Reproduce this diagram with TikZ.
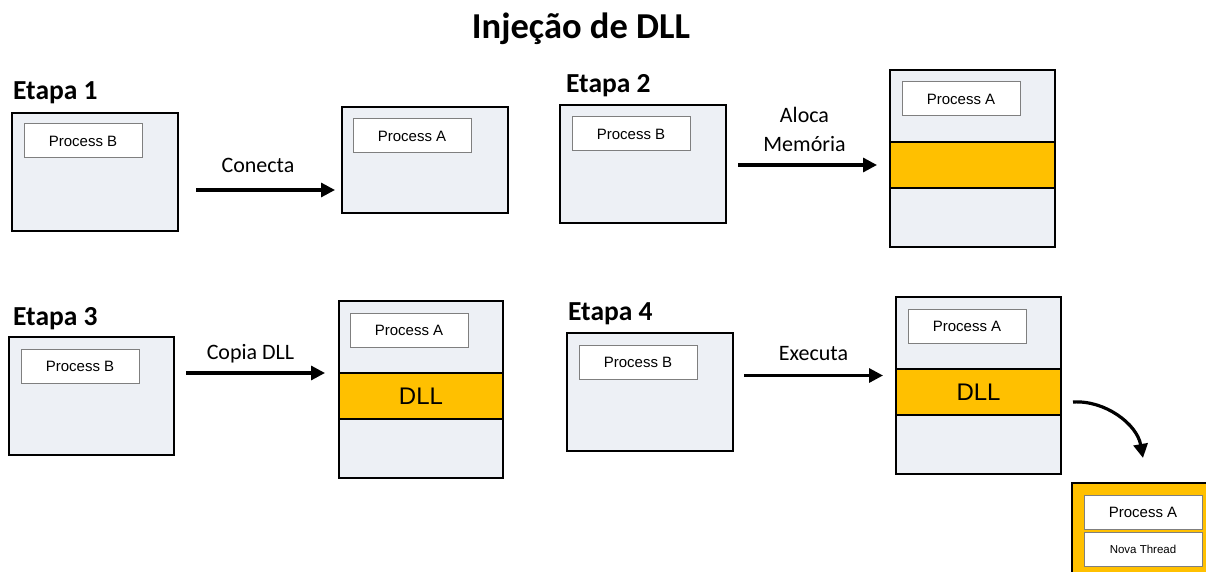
\documentclass[tikz,border=0pt]{standalone}
\usepackage{fontspec}
\setmainfont{Carlito}
\newfontfamily\arialfont{Liberation Sans}
\usetikzlibrary{arrows.meta,positioning}
\definecolor{procFill}{HTML}{EDF0F5}
\definecolor{dllOrange}{HTML}{FFC000}
\definecolor{tagGray}{HTML}{7F7F7F}

\begin{document}
\begin{tikzpicture}[
  x=1pt,y=-1pt,
  proc/.style={rectangle,draw=black,line width=2pt,fill=procFill,inner sep=0pt,outer sep=0pt,minimum width=166pt,minimum height=118pt},
  mem/.style={proc,minimum width=165pt,minimum height=177pt},
  band/.style={rectangle,draw=black,line width=2pt,fill=dllOrange,inner sep=0pt,outer sep=0pt,minimum width=165pt,minimum height=46pt,font=\arialfont\fontsize{24}{28}\selectfont},
  tag/.style={rectangle,draw=tagGray,line width=1pt,fill=white,inner sep=0pt,outer sep=0pt,minimum width=118pt,minimum height=34pt,font=\arialfont\fontsize{15}{18}\selectfont},
  etapa/.style={anchor=base west,inner sep=0pt,font=\bfseries\fontsize{27.5}{32}\selectfont},
  lbl/.style={anchor=base,inner sep=0pt,font=\fontsize{22}{29}\selectfont,align=center},
  arrow/.style={-{Triangle[length=14pt,width=14pt]},line width=3.2pt}
]
\path[use as bounding box,clip] (0,0) rectangle (1206,572);
\node[anchor=base,inner sep=0pt,font=\bfseries\fontsize{36.5}{40}\selectfont] (title) at (581,39) {Injeção de DLL};

% etapa 1
\node[etapa] (e1) at (13,100) {Etapa 1};
\node[proc,anchor=north west] (b1) at (12,113) {};
\node[tag,below right=11pt and 12pt of b1.north west] (b1tag) {Process B};
\node[proc,anchor=north west,minimum height=106pt] (a1) at (342,107) {};
\node[tag,below right=12pt and 11pt of a1.north west] (a1tag) {Process A};
\node[lbl] (l1) at (258,172.7) {Conecta};
\draw[arrow] ([shift={(18,18)}]b1.east) -- ([shift={(-7,30)}]a1.west);

% etapa 2
\node[etapa] (e2) at (566,93) {Etapa 2};
\node[proc,anchor=north west] (b2) at (560,105) {};
\node[tag,below right=12pt and 12pt of b2.north west] (b2tag) {Process B};
\node[mem,anchor=north west] (a2) at (890,70) {};
\node[band,below=72pt of a2.north] (a2band) {};
\node[tag,below right=12pt and 12pt of a2.north west] (a2tag) {Process A};
\node[lbl] (l2) at (804.5,152) {Aloca\\Memória};
\draw[arrow] ([shift={(12,1)}]b2.east) -- ([shift={(-13,6.5)}]a2.west);

% etapa 3
\node[etapa] (e3) at (13,325.5) {Etapa 3};
\node[proc,anchor=north west,minimum width=165pt] (b3) at (9,337) {};
\node[tag,below right=12pt and 12pt of b3.north west] (b3tag) {Process B};
\node[mem,anchor=north west,minimum width=164pt] (a3) at (339,301) {};
\node[band,below=72pt of a3.north,minimum width=164pt] (a3band) {DLL};
\node[tag,below right=12pt and 11pt of a3.north west] (a3tag) {Process A};
\node[lbl] (l3) at (250.5,359) {Copia DLL};
\draw[arrow] ([shift={(12,-23)}]b3.east) -- ([shift={(-14,-16.5)}]a3.west);

% etapa 4
\node[etapa] (e4) at (568,320) {Etapa 4};
\node[proc,anchor=north west] (b4) at (567,333) {};
\node[tag,below right=12pt and 12pt of b4.north west] (b4tag) {Process B};
\node[mem,anchor=north west] (a4) at (896,297) {};
\node[band,below=72pt of a4.north] (a4band) {DLL};
\node[tag,below right=12pt and 12pt of a4.north west] (a4tag) {Process A};
\node[lbl] (l4) at (813.5,360) {Executa};
\draw[arrow] ([shift={(11,-16.5)}]b4.east) -- ([shift={(-13,-10)}]a4.west);

% new thread
\node[proc,fill=dllOrange,anchor=north west,minimum width=142pt,minimum height=100pt] (thr) at (1072,483) {};
\node[tag,below right=12pt and 12pt of thr.north west] (thrA) {Process A};
\node[tag,below=3pt of thrA,font=\arialfont\fontsize{11.5}{14}\selectfont] (thrB) {Nova Thread};
\draw[arrow] ([shift={(12,16.5)}]a4.east) .. controls +(32,-2) and +(-6,-34) .. ([shift={(0,-25)}]thr.north);
\end{tikzpicture}
\end{document}
